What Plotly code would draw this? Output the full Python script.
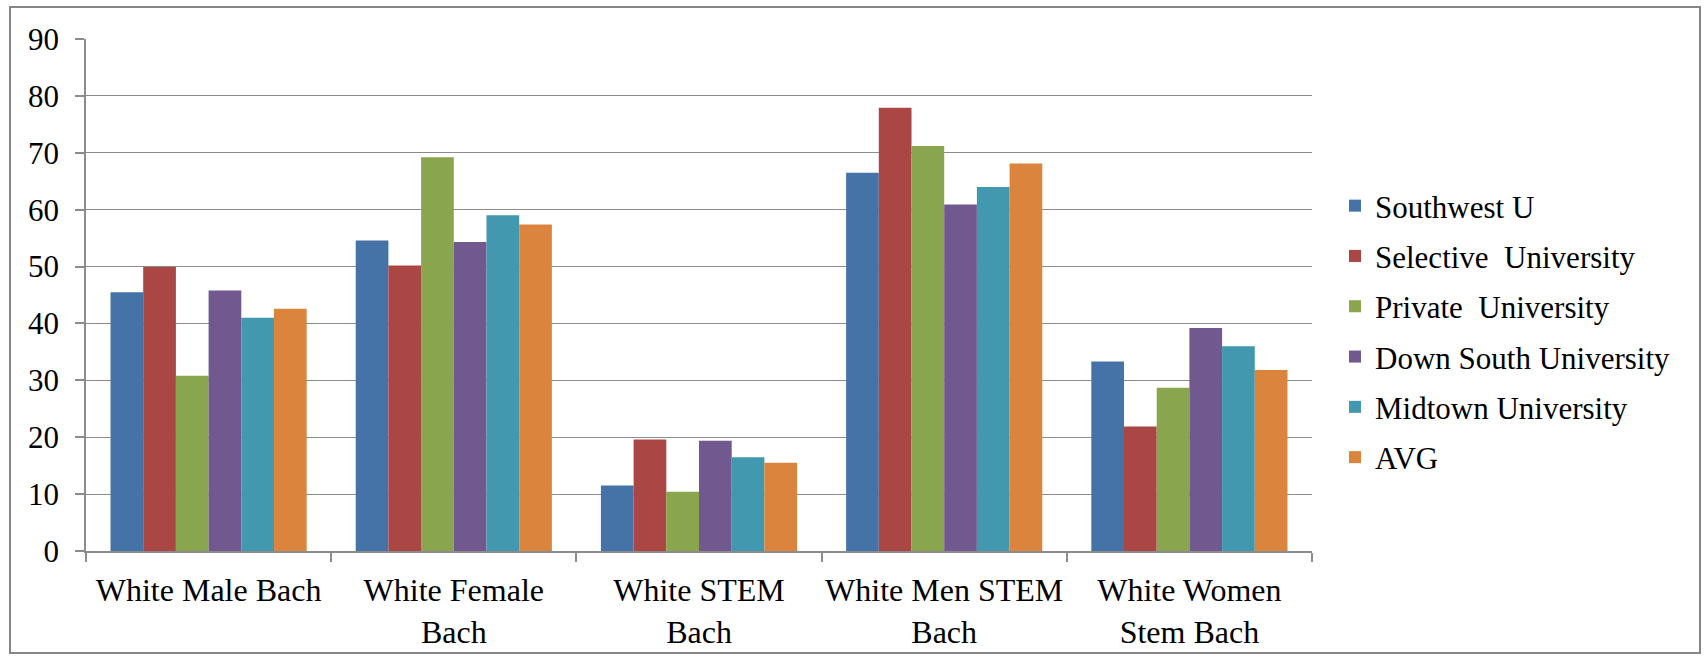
import plotly.graph_objects as go

# Categories along the x axis (two-line labels use <br>)
categories = [
    "White Male Bach",
    "White Female<br>Bach",
    "White STEM<br>Bach",
    "White Men STEM<br>Bach",
    "White Women<br>Stem Bach",
]

# Percentages per institution
southwest_u = [45.5, 54.6, 11.5, 66.5, 33.3]
selective_university = [49.9, 50.2, 19.6, 77.9, 21.9]
private_university = [30.8, 69.2, 10.4, 71.2, 28.7]
down_south_university = [45.8, 54.3, 19.4, 60.9, 39.2]
midtown_university = [41.0, 59.0, 16.5, 64.0, 36.0]
avg = [42.6, 57.4, 15.5, 68.1, 31.8]

series_names = [
    "Southwest U",
    "Selective\u00a0 University",
    "Private\u00a0 University",
    "Down South University",
    "Midtown University",
    "AVG",
]
series_values = [
    southwest_u,
    selective_university,
    private_university,
    down_south_university,
    midtown_university,
    avg,
]
series_colors = ["#4572A7", "#AA4643", "#89A54E", "#71588F", "#4198AF", "#DB843D"]

y_ticks = [0, 10, 20, 30, 40, 50, 60, 70, 80, 90]

W, H = 1707, 657
ML, MR, MT, MB = 86, 395, 39, 106
FONT = "Liberation Serif"
FS = 32
GRID = "#8c8c8c"

fig = go.Figure()
for name, vals, color in zip(series_names, series_values, series_colors):
    fig.add_trace(
        go.Bar(
            name=name,
            x=categories,
            y=vals,
            marker=dict(color=color, line=dict(width=0)),
            legendgroup=name,
        )
    )

# Outer chart frame, expressed in plot-area (paper) fractions
pw = W - ML - MR
ph = H - MT - MB
fx0, fx1 = 10, 1700
fy0, fy1 = 7, 653
fig.add_shape(
    type="rect",
    xref="paper",
    yref="paper",
    x0=(fx0 - ML) / pw,
    x1=(fx1 - ML) / pw,
    y0=(H - MB - fy1) / ph,
    y1=(H - MB - fy0) / ph,
    line=dict(color="#868686", width=2),
    fillcolor="rgba(0,0,0,0)",
    layer="below",
)

fig.update_layout(
    width=W,
    height=H,
    margin=dict(l=ML, r=MR, t=MT, b=MB, pad=0, autoexpand=False),
    paper_bgcolor="white",
    plot_bgcolor="white",
    barmode="group",
    bargap=0.2,
    bargroupgap=0,
    font=dict(family=FONT, size=FS, color="black"),
    legend=dict(
        xref="container",
        yref="container",
        x=1335 / W,
        y=1 - 179 / H,
        xanchor="left",
        yanchor="top",
        font=dict(family=FONT, size=31, color="black"),
        tracegroupgap=7,
        bgcolor="rgba(0,0,0,0)",
        itemclick=False,
    ),
    showlegend=True,
)

fig.update_xaxes(
    type="category",
    automargin=False,
    tickangle=0,
    showgrid=False,
    showline=True,
    linecolor=GRID,
    linewidth=1.5,
    ticks="outside",
    tickson="boundaries",
    ticklen=9,
    tickwidth=1.5,
    tickcolor=GRID,
    ticklabelstandoff=10,
    tickfont=dict(family=FONT, size=FS, color="black"),
    zeroline=False,
)

fig.update_yaxes(
    range=[0, 90],
    tickvals=y_ticks,
    automargin=False,
    showgrid=True,
    gridcolor=GRID,
    gridwidth=1.3,
    showline=True,
    linecolor=GRID,
    linewidth=1.5,
    ticks="outside",
    ticklen=9,
    tickwidth=1.5,
    tickcolor=GRID,
    ticklabelstandoff=10,
    tickfont=dict(family=FONT, size=31, color="black"),
    zeroline=False,
)

fig.write_html("out.html")
